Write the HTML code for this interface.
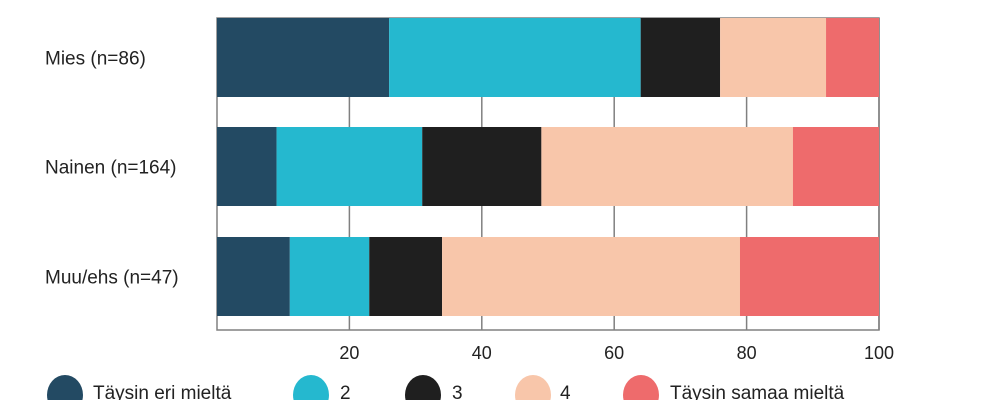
<!DOCTYPE html>
<html><head><meta charset="utf-8"><style>
body{margin:0;width:1000px;height:400px;overflow:hidden;background:#fff;font-family:"Liberation Sans",sans-serif}
svg text{font-family:"Liberation Sans",sans-serif;fill:#222}
</style></head><body>
<svg id="chart" width="1000" height="400"></svg>
<script>
const categories=["Mies (n=86)","Nainen (n=164)","Muu/ehs (n=47)"];
const s1=[26,9,11];
const s2=[38,22,12];
const s3=[12,18,11];
const s4=[16,38,45];
const s5=[8,13,21];
const seriesNames=["Täysin eri mieltä","2","3","4","Täysin samaa mieltä"];
const ticks=[20,40,60,80,100];
const colors=["#234a63","#25b8cf","#1f1f1f","#f8c6aa","#ee6b6c"];
const series=[s1,s2,s3,s4,s5];
const NS="http://www.w3.org/2000/svg";
const svgEl=document.getElementById('chart');
const x0=217,x1=879,plotTop=18,plotBottom=330,barTop=[18,127,237],barH=79;
const xs=v=>x0+(x1-x0)*v/100;
function mk(t,a){const e=document.createElementNS(NS,t);for(const k in a)e.setAttribute(k,a[k]);svgEl.appendChild(e);return e;}
let r=mk('rect',{x:x0,y:plotTop,width:x1-x0,height:plotBottom-plotTop,fill:'#fff',stroke:'#808080','stroke-width':1.5});


ticks.forEach(t=>{
 const l=mk('line',{x1:xs(t),x2:xs(t),y1:plotTop,y2:plotBottom,stroke:'#808080','stroke-width':1.5});
 
 
 const tx=mk('text',{x:xs(t),y:359,'text-anchor':'middle','font-size':18});
 tx.textContent=t;
 
 
});
categories.forEach((c,i)=>{
 const y=barTop[i];
 let acc=0;
 series.forEach((s,j)=>{
  const b=mk('rect',{x:xs(acc),y:y,width:xs(acc+s[i])-xs(acc),height:barH,fill:colors[j]});
  
  
  acc+=s[i];
 });
 const lt=mk('text',{x:45,y:y+barH/2+7,'font-size':19});
 lt.textContent=c;
 
 
});
const legX=[[65,93],[311,340],[423,452],[533,560],[641,670]];
seriesNames.forEach((n,j)=>{
 const e=mk('ellipse',{cx:legX[j][0],cy:395,rx:18,ry:20,fill:colors[j]});
 
 
 const t=mk('text',{x:legX[j][1],y:399,'font-size':19});
 t.textContent=n;
 
 
});
</script>
</body></html>
